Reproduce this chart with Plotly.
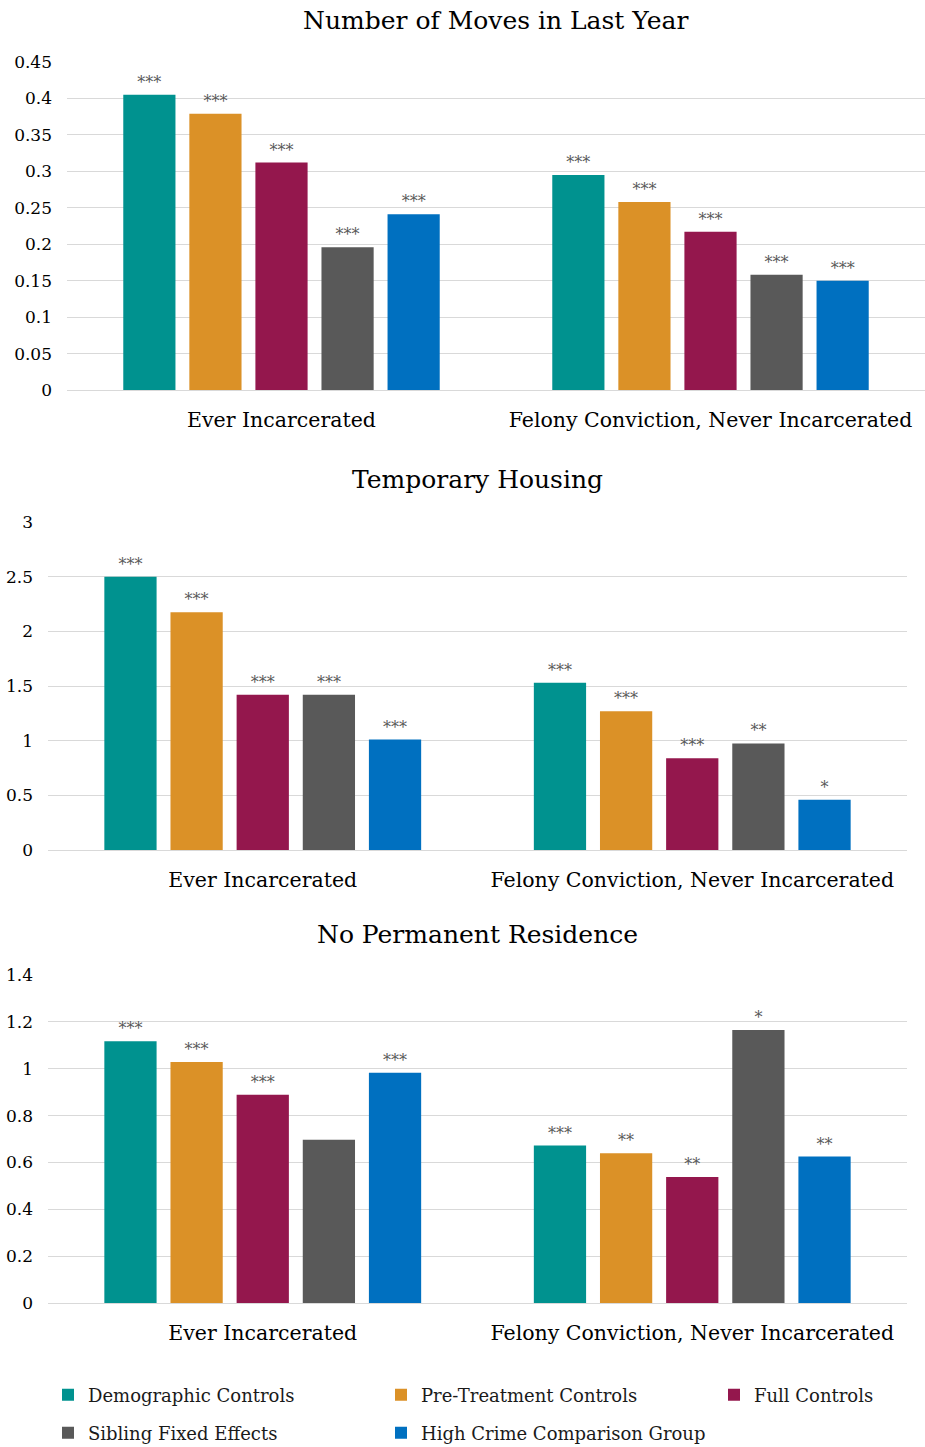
import plotly.graph_objects as go

# Categories and series
categories = ["Ever Incarcerated", "Felony Conviction, Never Incarcerated"]
series_names = [
    "Demographic Controls",
    "Pre-Treatment Controls",
    "Full Controls",
    "Sibling Fixed Effects",
    "High Crime Comparison Group",
]
series_colors = ["#00928F", "#DB9127", "#94174D", "#595959", "#0070C0"]

# Number of Moves in Last Year: values per series [Ever Incarcerated, Felony Conviction]
moves_values = [
    [0.405, 0.295],
    [0.379, 0.258],
    [0.312, 0.217],
    [0.196, 0.158],
    [0.241, 0.150],
]
moves_stars = [
    ["***", "***"],
    ["***", "***"],
    ["***", "***"],
    ["***", "***"],
    ["***", "***"],
]

# Temporary Housing
housing_values = [
    [2.50, 1.53],
    [2.175, 1.27],
    [1.42, 0.84],
    [1.42, 0.975],
    [1.01, 0.46],
]
housing_stars = [
    ["***", "***"],
    ["***", "***"],
    ["***", "***"],
    ["***", "**"],
    ["***", "*"],
]

# No Permanent Residence
residence_values = [
    [1.117, 0.672],
    [1.029, 0.639],
    [0.889, 0.538],
    [0.697, 1.165],
    [0.983, 0.625],
]
residence_stars = [
    ["***", "***"],
    ["***", "**"],
    ["***", "**"],
    ["", "*"],
    ["***", "**"],
]

panel_titles = ["Number of Moves in Last Year", "Temporary Housing", "No Permanent Residence"]
panel_ranges = [[0, 0.45], [0, 3], [0, 1.4]]
panel_dticks = [0.05, 0.5, 0.2]

W, H = 925, 1447
FONT = "DejaVu Serif"

# Pixel layout of each panel: (left, right, top, bottom)
panel_boxes = [
    (67, 925, 62, 390),
    (48, 907, 522, 850),
    (48, 907, 975, 1303),
]
title_y = [20, 480, 934]

# Legend entry positions (left x of the swatch area, row centre y), in pixels
legend_pos = [(48, 1395), (381, 1395), (714, 1395), (48, 1433), (381, 1433)]

fig = go.Figure()
panels = [
    (moves_values, moves_stars),
    (housing_values, housing_stars),
    (residence_values, residence_stars),
]

for p, (vals, stars) in enumerate(panels):
    xa = "x" if p == 0 else f"x{p + 1}"
    ya = "y" if p == 0 else f"y{p + 1}"
    for s, name in enumerate(series_names):
        fig.add_trace(
            go.Bar(
                x=categories,
                y=vals[s],
                name=name,
                marker=dict(color=series_colors[s], line=dict(width=0)),
                text=stars[s],
                textposition="outside",
                textfont=dict(family=FONT, size=16, color="#595959"),
                cliponaxis=False,
                xaxis=xa,
                yaxis=ya,
                showlegend=(p == 0),
                legend="legend" if s == 0 else f"legend{s + 1}",
            )
        )

layout = dict(
    width=W,
    height=H,
    margin=dict(l=0, r=0, t=0, b=0, autoexpand=False),
    paper_bgcolor="white",
    plot_bgcolor="white",
    barmode="group",
    bargap=0.23,
    bargroupgap=0.21,
    font=dict(family=FONT, color="#000000"),
)

for s in range(len(series_names)):
    key = "legend" if s == 0 else f"legend{s + 1}"
    lx, ly = legend_pos[s]
    layout[key] = dict(
        orientation="h",
        x=lx / W,
        xanchor="left",
        y=1 - ly / H,
        yanchor="middle",
        font=dict(family=FONT, size=18, color="#1a1a1a"),
        itemclick=False,
        bgcolor="rgba(0,0,0,0)",
    )

annotations = []
for p in range(3):
    l, r, t, b = panel_boxes[p]
    sx = "" if p == 0 else str(p + 1)
    layout[f"xaxis{sx}"] = dict(
        domain=[l / W, r / W],
        anchor=f"y{sx}",
        automargin=False,
        showgrid=False,
        showline=False,
        ticks="",
        tickfont=dict(family=FONT, size=20.5, color="#000000"),
        ticklabelstandoff=15,
    )
    layout[f"yaxis{sx}"] = dict(
        domain=[1 - b / H, 1 - t / H],
        anchor=f"x{sx}",
        automargin=False,
        range=panel_ranges[p],
        dtick=panel_dticks[p],
        tick0=0,
        showgrid=True,
        gridcolor="#D9D9D9",
        gridwidth=1,
        zeroline=True,
        zerolinecolor="#D9D9D9",
        zerolinewidth=1,
        showline=False,
        ticks="",
        tickfont=dict(family=FONT, size=17, color="#000000"),
        ticklabelstandoff=14,
    )
    annotations.append(
        dict(
            text=panel_titles[p],
            xref="paper",
            yref="paper",
            x=(l + r) / 2 / W,
            y=1 - title_y[p] / H,
            xanchor="center",
            yanchor="middle",
            showarrow=False,
            font=dict(family=FONT, size=25, color="#000000"),
        )
    )

layout["annotations"] = annotations
fig.update_layout(**layout)

fig.write_html("out.html")
